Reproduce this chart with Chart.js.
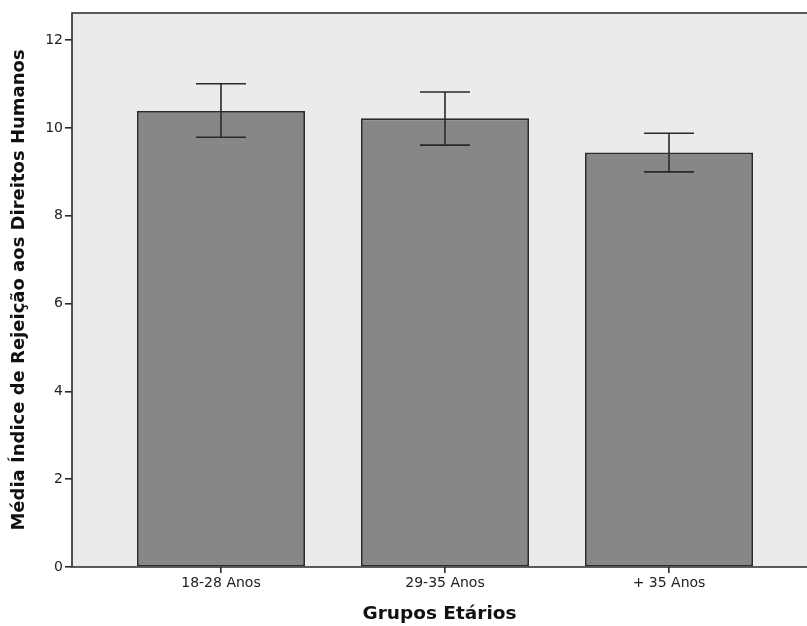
<!DOCTYPE html>
<html>
<head>
<meta charset="utf-8">
<script src="https://cdn.jsdelivr.net/npm/chart.js@4/dist/chart.umd.min.js"></script>
<style>
  html, body { margin: 0; padding: 0; background: #fff; overflow: hidden; }
  #wrap { width: 807px; height: 626px; }
</style>
</head>
<body>
<div id="wrap"><canvas id="c" width="807" height="626"></canvas></div>
<script>
const categories = ["18-28 Anos", "29-35 Anos", "+ 35 Anos"];
const means = [10.39, 10.22, 9.44];
const errLow = [9.79, 9.61, 9.00];
const errHigh = [11.01, 10.82, 9.88];
const yTicks = [0, 2, 4, 6, 8, 10, 12];

const AXIS = "#2a2a2a";

// fundo cinza e moldura da área do gráfico
const plotFrame = {
  id: "plotFrame",
  beforeDraw(chart) {
    const { ctx, chartArea: a } = chart;
    ctx.save();
    ctx.fillStyle = "#ebebeb";
    ctx.fillRect(a.left, a.top, a.right - a.left, a.bottom - a.top);
    ctx.strokeStyle = AXIS;
    ctx.lineWidth = 1.6;
    ctx.beginPath();
    ctx.moveTo(a.right + 5, a.top);
    ctx.lineTo(a.left, a.top);
    ctx.lineTo(a.left, a.bottom);
    ctx.lineTo(a.right + 5, a.bottom);
    ctx.stroke();
    ctx.restore();
  }
};

// barras de erro
const errorBars = {
  id: "errorBars",
  afterDatasetsDraw(chart) {
    const { ctx, scales: { x, y } } = chart;
    ctx.save();
    ctx.strokeStyle = AXIS;
    ctx.lineWidth = 1.6;
    means.forEach((m, i) => {
      const px = x.getPixelForValue(i + 1);
      const hi = y.getPixelForValue(errHigh[i]);
      const lo = y.getPixelForValue(errLow[i]);
      ctx.beginPath();
      ctx.moveTo(px, hi); ctx.lineTo(px, lo);
      ctx.moveTo(px - 25, hi); ctx.lineTo(px + 25, hi);
      ctx.moveTo(px - 25, lo); ctx.lineTo(px + 25, lo);
      ctx.stroke();
    });
    ctx.restore();
  }
};

new Chart(document.getElementById("c"), {
  type: "bar",
  data: {
    datasets: [{
      data: means.map((v, i) => ({ x: i + 1, y: v })),
      backgroundColor: "#878787",
      borderColor: AXIS,
      borderWidth: 1.8,
      borderSkipped: false,
      barPercentage: 0.75,
      categoryPercentage: 1
    }]
  },
  options: {
    responsive: false,
    animation: false,
    layout: { padding: { top: 13, left: 0, right: 0, bottom: 0 } },
    plugins: { legend: { display: false }, tooltip: { enabled: false } },
    scales: {
      x: {
        type: "linear",
        min: 0.335,
        max: 3.616,
        offset: false,
        afterFit: s => { s.height = 59; },
        afterBuildTicks: s => { s.ticks = categories.map((c, i) => ({ value: i + 1 })); },
        grid: { display: true, offset: false, drawOnChartArea: false, drawTicks: true, tickLength: 6, color: AXIS, lineWidth: 1.6 },
        border: { display: false },
        ticks: {
          autoSkip: false,
          maxRotation: 0,
          padding: 2,
          color: "#222",
          font: { family: "DejaVu Sans", size: 14 },
          callback: v => categories[v - 1] ?? ""
        },
        title: {
          display: true,
          text: "Grupos Etários",
          color: "#111",
          font: { family: "DejaVu Sans", size: 18.5, weight: "bold" },
          padding: { top: 0, bottom: 1 }
        }
      },
      y: {
        min: 0,
        max: 12.62,
        afterFit: s => { s.width = 72; },
        afterBuildTicks: s => { s.ticks = yTicks.map(v => ({ value: v })); },
        grid: { display: true, drawOnChartArea: false, drawTicks: true, tickLength: 7, color: AXIS, lineWidth: 1.6 },
        border: { display: false },
        ticks: {
          padding: 2,
          color: "#222",
          font: { family: "DejaVu Sans", size: 14 }
        },
        title: {
          display: true,
          text: "Média Índice de Rejeição aos Direitos Humanos",
          color: "#111",
          font: { family: "DejaVu Sans", size: 18, weight: "bold" },
          padding: { top: 9, bottom: 0 }
        }
      }
    }
  },
  plugins: [plotFrame, errorBars]
});
</script>
</body>
</html>
